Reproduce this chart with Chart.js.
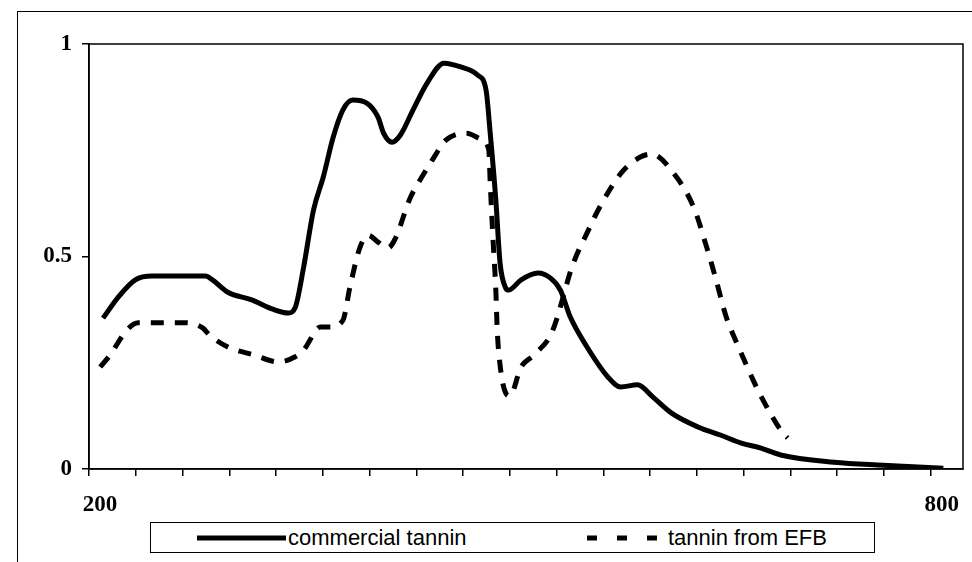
<!DOCTYPE html>
<html>
<head>
<meta charset="utf-8">
<script src="https://cdn.jsdelivr.net/npm/chart.js@4.4.1/dist/chart.umd.min.js"></script>
<style>
  body { margin: 0; background: #fff; }
  #wrap { position: relative; width: 972px; height: 562px; overflow: hidden; }
  #marco { position: absolute; left: 17px; top: 11px; width: 980px; height: 600px;
           border-top: 1.5px solid #000; border-left: 1.5px solid #000; }
  #grafica { position: absolute; left: 0; top: 0; }
  #leyenda { position: absolute; left: 150px; top: 522px; width: 723px; height: 29px;
             border: 1.5px solid #000; background: #fff;
             font-family: "Liberation Sans", Arial, sans-serif; font-size: 22px; color: #000; }
  #leyenda svg { position: absolute; top: 0; }
  #leyenda span { position: absolute; top: 2px; line-height: 25px; white-space: nowrap; }
</style>
</head>
<body>
<div id="wrap">
  <div id="marco"></div>
  <canvas id="grafica" width="972" height="562"></canvas>
  <div id="leyenda">
    <svg width="100" height="29" style="left:44px"><line x1="2" y1="15" x2="91" y2="15" stroke="#000" stroke-width="5"/></svg>
    <span style="left:137px">commercial tannin</span>
    <svg width="100" height="29" style="left:434px"><line x1="2" y1="15" x2="80" y2="15" stroke="#000" stroke-width="5" stroke-dasharray="10 20"/></svg>
    <span style="left:517px">tannin from EFB</span>
  </div>
</div>
<script>
// wavelength (nm) and absorbance
const comercialX = [210, 221, 233, 245, 283, 288, 299, 316, 331, 342, 347, 353, 360, 367, 374, 381, 388, 398, 406, 410,
  416, 422, 431, 441, 453, 465, 477, 483, 486, 490, 493, 497, 499, 508, 520, 529, 536, 543, 555, 570,
  579, 591, 602, 615, 634, 650, 665, 679, 693, 731, 766, 809];
const comercialY = [0.355, 0.405, 0.445, 0.454, 0.454, 0.445, 0.416, 0.398, 0.376, 0.367, 0.38, 0.475, 0.609, 0.687, 0.78, 0.845, 0.868, 0.861, 0.828, 0.79,
  0.769, 0.786, 0.845, 0.908, 0.955, 0.946, 0.927, 0.892, 0.79, 0.633, 0.485, 0.426, 0.421, 0.445, 0.461, 0.449, 0.421, 0.358, 0.287, 0.216,
  0.193, 0.198, 0.169, 0.132, 0.099, 0.08, 0.061, 0.049, 0.033, 0.016, 0.009, 0.002];

const efbX = [208, 215, 227, 235, 249, 269, 281, 286, 299, 318, 335, 347, 353, 365, 372, 381, 386, 393, 399, 406,
  413, 418, 429, 436, 447, 453, 469, 480, 485, 486, 488, 490, 491, 493, 497, 500, 508, 517, 530, 545,
  556, 564, 580, 593, 601, 616, 631, 640, 647, 654, 663, 674, 680, 694, 698];
const efbY = [0.24, 0.268, 0.327, 0.344, 0.344, 0.344, 0.332, 0.315, 0.287, 0.268, 0.252, 0.264, 0.28, 0.334, 0.334, 0.35, 0.428, 0.52, 0.55, 0.534,
  0.52, 0.54, 0.638, 0.68, 0.739, 0.77, 0.79, 0.775, 0.75, 0.673, 0.54, 0.42, 0.327, 0.245, 0.179, 0.172, 0.24, 0.268, 0.322, 0.482,
  0.562, 0.616, 0.699, 0.734, 0.741, 0.699, 0.616, 0.525, 0.445, 0.36, 0.287, 0.205, 0.165, 0.087, 0.073];

const xTicks = [200, 233.33, 266.67, 300, 333.33, 366.67, 400, 433.33, 466.67, 500,
  533.33, 566.67, 600, 633.33, 666.67, 700, 733.33, 766.67, 800];
const xTickLabels = ['200', '', '', '', '', '', '', '', '', '', '', '', '', '', '', '', '', '', '800'];
const yTicks = [0, 0.5, 1];
const yTickLabels = ['0', '0.5', '1'];

const aPuntos = (xs, ys) => xs.map((x, i) => ({ x: x, y: ys[i] }));

// borde del area de trazado
const bordeArea = {
  id: 'bordeArea',
  afterDraw(chart) {
    const { ctx, chartArea: a } = chart;
    ctx.save();
    ctx.strokeStyle = '#000';
    ctx.lineWidth = 1.5;
    ctx.strokeRect(a.left, a.top, a.right - a.left, a.bottom - a.top);
    ctx.restore();
  }
};

const fuenteEje = { family: '"Liberation Serif", "Times New Roman", serif', size: 23, weight: 'bold' };

new Chart(document.getElementById('grafica').getContext('2d'), {
  type: 'line',
  data: {
    datasets: [{
      label: 'commercial tannin',
      data: aPuntos(comercialX, comercialY),
      borderColor: '#000',
      borderWidth: 5,
      pointRadius: 0,
      cubicInterpolationMode: 'monotone'
    }, {
      label: 'tannin from EFB',
      data: aPuntos(efbX, efbY),
      borderColor: '#000',
      borderWidth: 5,
      borderDash: [13, 11],
      pointRadius: 0,
      cubicInterpolationMode: 'monotone'
    }]
  },
  options: {
    responsive: false,
    animation: false,
    layout: { padding: { top: 44, right: 9, left: 0, bottom: 0 } },
    plugins: { legend: { display: false }, tooltip: { enabled: false } },
    scales: {
      x: {
        type: 'linear',
        min: 200,
        max: 823,
        afterBuildTicks: (scale) => { scale.ticks = xTicks.map(v => ({ value: v })); },
        afterFit: (scale) => { scale.height = 93; },
        grid: { drawOnChartArea: false, color: '#000', lineWidth: 1.5, tickLength: 7 },
        border: { display: true, color: '#000', width: 1.5 },
        ticks: {
          color: '#000',
          font: fuenteEje,
          padding: 15,
          labelOffset: 11,
          maxRotation: 0,
          autoSkip: false,
          callback: (v, i) => xTickLabels[i]
        }
      },
      y: {
        min: 0,
        max: 1,
        afterBuildTicks: (scale) => { scale.ticks = yTicks.map(v => ({ value: v })); },
        afterFit: (scale) => { scale.width = 89; },
        grid: { drawOnChartArea: false, color: '#000', lineWidth: 1.5, tickLength: 7 },
        border: { display: true, color: '#000', width: 1.5 },
        ticks: {
          color: '#000',
          font: fuenteEje,
          padding: 10,
          callback: (v, i) => yTickLabels[i]
        }
      }
    }
  },
  plugins: [bordeArea]
});
</script>
</body>
</html>
